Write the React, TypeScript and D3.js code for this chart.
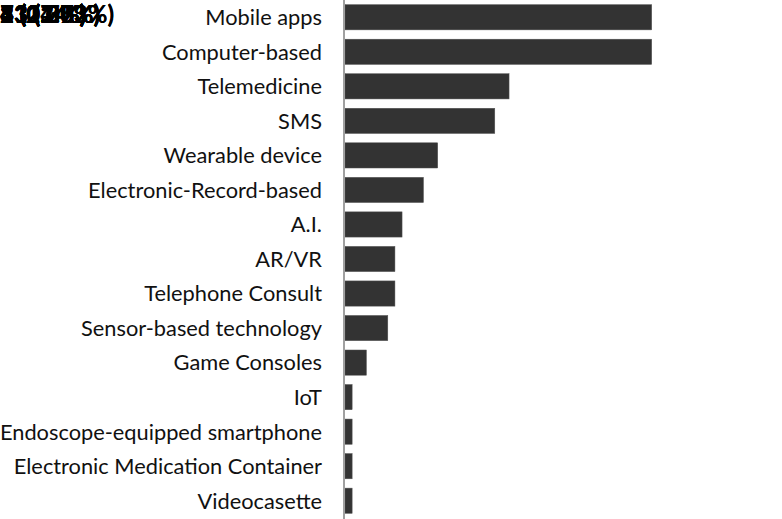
import React from "react";
import * as d3 from "d3";

const categories = [
  "Mobile apps",
  "Computer-based",
  "Telemedicine",
  "SMS",
  "Wearable device",
  "Electronic-Record-based",
  "A.I.",
  "AR/VR",
  "Telephone Consult",
  "Sensor-based technology",
  "Game Consoles",
  "IoT",
  "Endoscope-equipped smartphone",
  "Electronic Medication Container",
  "Videocasette",
];
const counts = [43, 43, 23, 21, 13, 11, 8, 7, 7, 6, 3, 1, 1, 1, 1];
const percents = ["14.3", "14.3", "7.7", "7.0", "4.3", "3.7", "2.7", "2.3", "2.3", "2.0", "1.0", "0.3", "0.3", "0.3", "0.3"];

const W = 782;
const H = 519;
const x0 = 345;
const FONT = "Lato, 'Liberation Sans', sans-serif";

export default function App() {
  const y = d3.scaleBand<string>().domain(categories).range([0, 518]).paddingInner(0.27).paddingOuter(0.135);
  const x = d3.scaleLinear().domain([0, 43]).range([x0, 651.7]);
  return (
    <svg width={W} height={H} style={{ position: "absolute", left: 0, top: 0, background: "#fff" }}>
      {categories.map((c, i) => (
        <rect key={c} x={x(0)} y={y(c)} width={x(counts[i]) - x(0)} height={y.bandwidth()} fill="#333333" stroke="#555" strokeWidth={0.5} />
      ))}
      <line x1={344} x2={344} y1={0} y2={H} stroke="#a0a0a0" strokeWidth={2} />
      {categories.map((c) => (
        <text key={"l" + c} x={322} y={(y(c) as number) + y.bandwidth() / 2} dy="0.36em" textAnchor="end" fontFamily={FONT} fontSize={21.8} fill="#111">
          {c}
        </text>
      ))}
      {categories.map((c, i) => (
        <text key={"v" + c} x={0} y={23} fontFamily={FONT} fontWeight="bold" fontSize={24} fill="#000">
          {`${counts[i]} (${percents[i]}%)`}
        </text>
      ))}
    </svg>
  );
}
